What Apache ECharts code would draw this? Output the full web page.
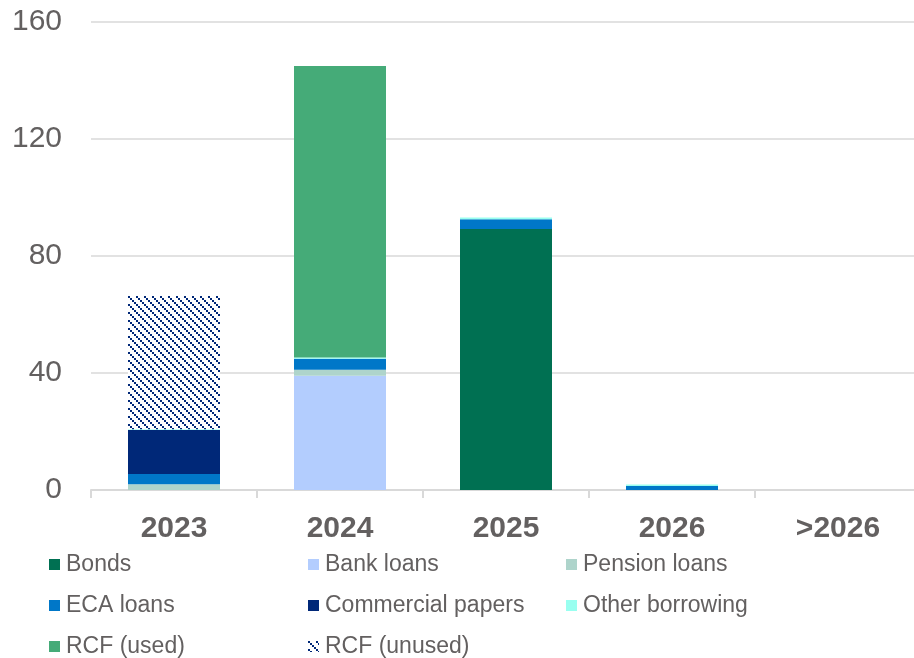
<!DOCTYPE html>
<html>
<head>
<meta charset="utf-8">
<script src="https://cdn.jsdelivr.net/npm/echarts@6/dist/echarts.min.js"></script>
<style>
html,body{margin:0;padding:0;background:#fff;}
#chart{width:914px;height:658px;}
</style>
</head>
<body>
<div id="chart"></div>
<script>
var categories = ['2023', '2024', '2025', '2026', '>2026'];
var yTicks = [0, 40, 80, 120, 160];
var bonds = [0, 0, 89.2, 0, 0];
var bankLoans = [0, 39.1, 0, 0, 0];
var pensionLoans = [2, 2, 0, 0, 0];
var ecaLoans = [3.5, 3.8, 3.4, 1.4, 0];
var commercialPapers = [15, 0, 0, 0, 0];
var otherBorrowing = [0.3, 0.4, 0.6, 0.5, 0];
var rcfUsed = [0, 99.7, 0, 0, 0];
var rcfUnused = [45.5, 0, 0, 0, 0];

var seriesNames = ['Bonds', 'Bank loans', 'Pension loans', 'ECA loans', 'Commercial papers', 'Other borrowing', 'RCF (used)', 'RCF (unused)'];
var seriesData = [bonds, bankLoans, pensionLoans, ecaLoans, commercialPapers, otherBorrowing, rcfUsed, rcfUnused];

var tile = document.createElement('canvas');
tile.width = 8; tile.height = 8;
var ctx = tile.getContext('2d');
ctx.fillStyle = '#ffffff';
ctx.fillRect(0, 0, 8, 8);
ctx.fillStyle = '#002878';
for (var k = 0; k < 8; k += 2) {
  ctx.fillRect(k, k, 2, 2);
}

var colors = ['#007052', '#b3cdfe', '#aed4cb', '#0077c8', '#002878', '#99fff0', '#45ab78', {image: tile, repeat: 'repeat'}];

var series = seriesNames.map(function (n, i) {
  return {
    name: n,
    type: 'bar',
    stack: 'total',
    barWidth: 92,
    data: seriesData[i],
    itemStyle: {color: colors[i]},
    emphasis: {disabled: true}
  };
});

var font = 'Liberation Sans, Arial, sans-serif';
var txtColor = '#636060';
var colLeft = [49, 308, 566];
var rowTop = [553, 594, 635];
var legends = seriesNames.map(function (n, i) {
  return {
    left: colLeft[i % 3],
    top: rowTop[Math.floor(i / 3)],
    padding: 0,
    itemWidth: 11,
    itemHeight: 11,
    icon: 'rect',
    selectedMode: false,
    data: [n],
    textStyle: {fontFamily: font, fontSize: 23, lineHeight: 23, color: txtColor, padding: [0, 0, 0, 1]}
  };
});

var chart = echarts.init(document.getElementById('chart'), null, {renderer: 'canvas'});
chart.setOption({
  animation: false,
  grid: {left: 91, width: 830, top: 22, height: 468, outerBoundsMode: 'none', containLabel: false},
  xAxis: {
    type: 'category',
    data: categories,
    axisLine: {lineStyle: {color: '#d9d9d9', width: 2}},
    axisTick: {show: true, length: 8, lineStyle: {color: '#d9d9d9', width: 2}},
    axisLabel: {fontFamily: font, fontSize: 30, fontWeight: 'bold', color: txtColor, margin: 24}
  },
  yAxis: {
    type: 'value',
    min: yTicks[0],
    max: yTicks[yTicks.length - 1],
    interval: 40,
    axisLine: {show: false},
    axisTick: {show: false},
    splitLine: {lineStyle: {color: '#d9d9d9', width: 1.5}},
    axisLabel: {fontFamily: font, fontSize: 30, color: txtColor, margin: 29, padding: [3, 0, 0, 0]}
  },
  legend: legends,
  series: series
});
</script>
</body>
</html>
